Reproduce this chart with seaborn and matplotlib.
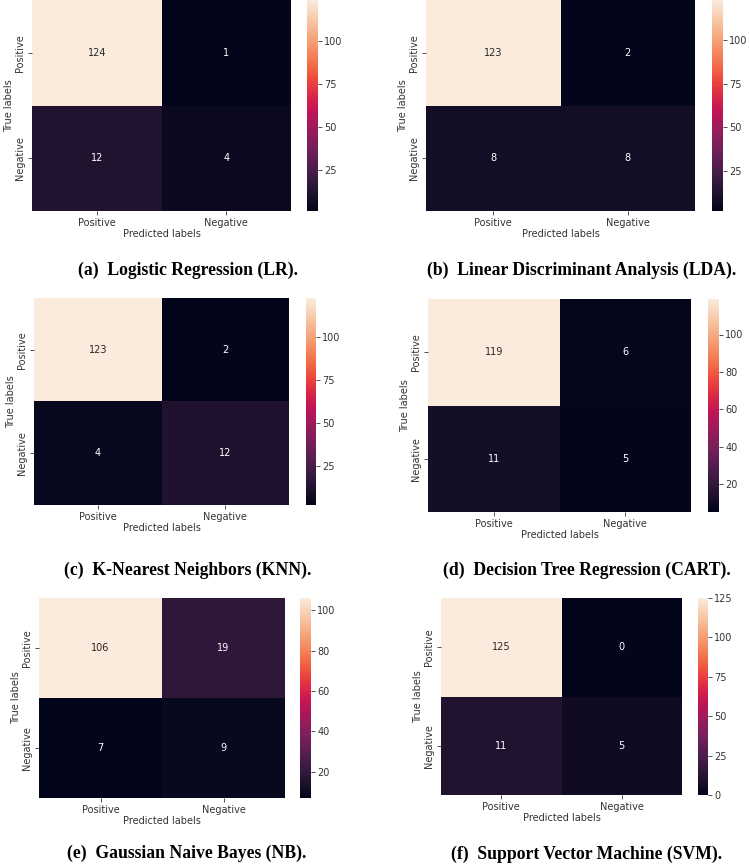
import matplotlib
matplotlib.use("Agg")
import matplotlib.pyplot as plt
import seaborn as sns
import numpy as np

# ---- data ----
class_labels = ["Positive", "Negative"]
cm_lr = [[124, 1], [12, 4]]
cm_lda = [[123, 2], [8, 8]]
cm_knn = [[123, 2], [4, 12]]
cm_cart = [[119, 6], [11, 5]]
cm_nb = [[106, 19], [7, 9]]
cm_svm = [[125, 0], [11, 5]]
captions = [
    "(a)  Logistic Regression (LR).",
    "(b)  Linear Discriminant Analysis (LDA).",
    "(c)  K-Nearest Neighbors (KNN).",
    "(d)  Decision Tree Regression (CART).",
    "(e)  Gaussian Naive Bayes (NB).",
    "(f)  Support Vector Machine (SVM).",
]
cbar_ticks_25 = [25, 50, 75, 100]
cbar_ticks_20 = [20, 40, 60, 80, 100]
cbar_ticks_svm = [0, 25, 50, 75, 100, 125]
matrices = [cm_lr, cm_lda, cm_knn, cm_cart, cm_nb, cm_svm]
cbar_ticks = [cbar_ticks_25, cbar_ticks_25, cbar_ticks_25,
              cbar_ticks_20, cbar_ticks_20, cbar_ticks_svm]

W, H = 749, 864
TXT = "#333333"
plt.rcParams.update({
    "font.family": ["DejaVu Sans"],
    "text.color": TXT,
    "axes.labelcolor": TXT,
    "xtick.color": TXT,
    "ytick.color": TXT,
    "xtick.labelsize": 7,
    "ytick.labelsize": 7,
    "axes.labelsize": 7,
})

fig = plt.figure(figsize=(W / 100, H / 100), dpi=100)

# layout in pixels: heat (l, r, t, b), cbar (l, r), caption center (x, y)
layout = [
    ((32, 291, 0, 211), (307, 318), (188, 270)),
    ((426, 695, 0, 211), (712, 723), (582, 270)),
    ((34, 289, 298, 505), (306, 316), (188, 570)),
    ((428, 691, 299, 512), (708, 719), (587, 570)),
    ((39, 285, 598, 798), (300, 311), (187, 853)),
    ((441, 682, 598, 795), (698, 708), (587, 854)),
]


def box(l, r, t, b):
    return [l / W, 1 - b / H, (r - l) / W, (b - t) / H]


for cm, cap, ticks, (heat, cb, cpos) in zip(matrices, captions, cbar_ticks, layout):
    l, r, t, b = heat
    ax = fig.add_axes(box(l, r, t, b))
    cax = fig.add_axes(box(cb[0], cb[1], t, b))
    sns.heatmap(np.array(cm), annot=True, fmt="d", ax=ax, cbar_ax=cax,
                xticklabels=class_labels, yticklabels=class_labels,
                annot_kws={"size": 7}, cbar_kws={"ticks": ticks})
    ax.set_xlabel("Predicted labels", labelpad=1)
    ax.set_ylabel("True labels", labelpad=1)
    ax.tick_params(axis="both", length=3, width=0.6, pad=2)
    for tl in ax.get_yticklabels():
        tl.set_rotation(90)
        tl.set_va("center")
    cax.tick_params(labelsize=7, length=3, width=0.6, pad=1.5)
    fig.text(cpos[0] / W, 1 - cpos[1] / H, cap, ha="center", va="center",
             family=["Liberation Serif"], fontweight="bold", fontsize=12.7,
             color="black")

fig.savefig("out.png", dpi=100)
